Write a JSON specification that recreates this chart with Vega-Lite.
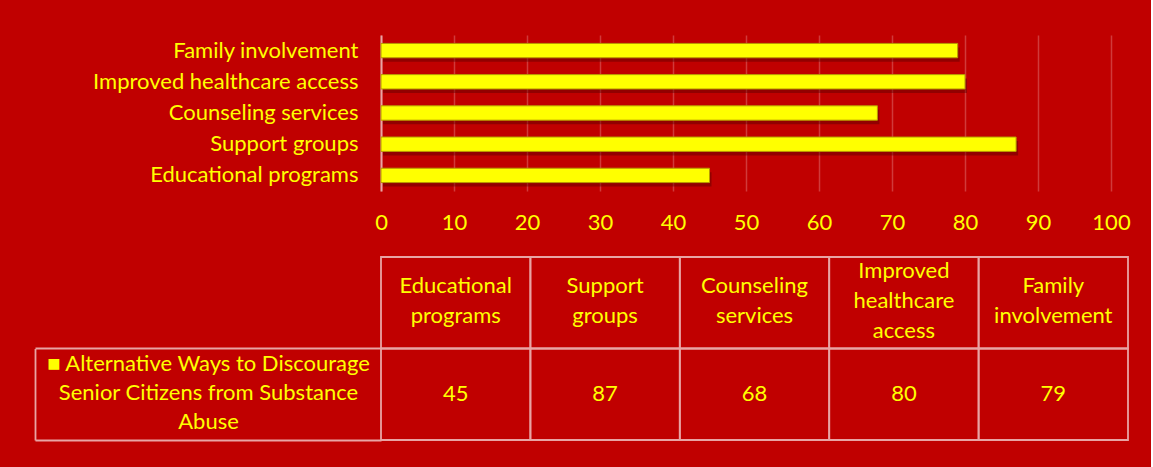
{
  "$schema": "https://vega.github.io/schema/vega-lite/v6.json",
  "background": "#C00000",
  "padding": {"left": 34, "top": 35, "right": 20, "bottom": 20},
  "config": {
    "view": {"stroke": null},
    "font": "Lato",
    "axis": {"labelFont": "Lato", "labelColor": "#FFFF00"},
    "text": {"font": "Lato"}
  },
  "datasets": {
    "ways": [
      {"category": "Educational programs", "value": 45},
      {"category": "Support groups", "value": 87},
      {"category": "Counseling services", "value": 68},
      {"category": "Improved healthcare access", "value": 80},
      {"category": "Family involvement", "value": 79}
    ]
  },
  "spacing": 23,
  "vconcat": [
    {
      "width": 730,
      "height": 156,
      "data": {"name": "ways"},
      "encoding": {
        "y": {
          "field": "category",
          "type": "nominal",
          "sort": ["Family involvement", "Improved healthcare access", "Counseling services", "Support groups", "Educational programs"],
          "scale": {"paddingInner": 0.54, "paddingOuter": 0.27},
          "axis": {
            "title": null,
            "domain": true,
            "domainColor": "#E8A4A4",
            "domainWidth": 2,
            "ticks": false,
            "labelPadding": 23,
            "labelFontSize": 22,
            "labelLimit": 400
          }
        },
        "x": {
          "field": "value",
          "type": "quantitative",
          "scale": {"domain": [0, 100], "nice": false},
          "axis": {
            "title": null,
            "values": [0, 10, 20, 30, 40, 50, 60, 70, 80, 90, 100],
            "domain": false,
            "ticks": false,
            "grid": true,
            "gridColor": "#D03A3A",
            "gridWidth": 1.5,
            "labelFlush": false,
            "labelPadding": 21,
            "labelFontSize": 22
          }
        }
      },
      "layer": [
        {"mark": {"type": "bar", "color": "#5a0000", "opacity": 0.45, "yOffset": 4, "xOffset": 2}},
        {"mark": {"type": "bar", "color": "#FFFF00", "stroke": "#B89A00", "strokeWidth": 1}}
      ]
    },
    {
      "width": 747,
      "height": 183,
      "data": {"name": "ways"},
      "resolve": {"scale": {"y": "independent"}, "axis": {"y": "independent"}},
      "encoding": {
        "x": {
          "field": "category",
          "type": "nominal",
          "sort": ["Educational programs", "Support groups", "Counseling services", "Improved healthcare access", "Family involvement"],
          "scale": {"paddingInner": 0, "paddingOuter": 0},
          "axis": null
        }
      },
      "layer": [
        {
          "mark": {"type": "rect", "filled": false, "stroke": "#E8A4A4", "strokeWidth": 1.8},
          "encoding": {
            "y": {
              "datum": "header",
              "type": "nominal",
              "scale": {"domain": ["header", "value"], "paddingInner": 0, "paddingOuter": 0},
              "axis": {
                "orient": "left",
                "title": null,
                "domain": false,
                "ticks": true,
                "bandPosition": 1,
                "tickSize": 346,
                "tickColor": "#E8A4A4",
                "tickWidth": 1.8,
                "labelPadding": -173,
                "labelAlign": "center",
                "labelBaseline": "top",
                "labelOffset": 51,
                "labelFontSize": 22,
                "labelLineHeight": 29,
                "labelLimit": 0,
                "labelExpr": "datum.value == 'header' ? ['\u25a0 Alternative Ways to Discourage', 'Senior Citizens from Substance', 'Abuse'] : ''"
              }
            }
          }
        },
        {
          "mark": {"type": "rect", "filled": false, "stroke": "#E8A4A4", "strokeWidth": 1.8},
          "encoding": {
            "y": {
              "datum": "value",
              "type": "nominal",
              "scale": {"domain": ["header", "value"], "paddingInner": 0, "paddingOuter": 0},
              "axis": {
                "orient": "left",
                "title": null,
                "offset": 346,
                "domain": true,
                "domainColor": "#E8A4A4",
                "domainWidth": 1.8,
                "domainDash": [0, 91.5, 91.5, 0],
                "ticks": false,
                "labels": false
              }
            }
          }
        },
        {
          "transform": [{"filter": "length(split(datum.category, ' ')) == 2"}],
          "mark": {"type": "text", "color": "#FFFF00", "fontSize": 22, "baseline": "middle", "lineBreak": " ", "lineHeight": 30, "dy": -17},
          "encoding": {
            "y": {"datum": "header", "type": "nominal", "scale": {"domain": ["header", "value"], "paddingInner": 0, "paddingOuter": 0}, "axis": null},
            "text": {"field": "category"}
          }
        },
        {
          "transform": [{"filter": "length(split(datum.category, ' ')) == 3"}],
          "mark": {"type": "text", "color": "#FFFF00", "fontSize": 22, "baseline": "middle", "lineBreak": " ", "lineHeight": 30, "dy": -32},
          "encoding": {
            "y": {"datum": "header", "type": "nominal", "scale": {"domain": ["header", "value"], "paddingInner": 0, "paddingOuter": 0}, "axis": null},
            "text": {"field": "category"}
          }
        },
        {
          "mark": {"type": "text", "color": "#FFFF00", "fontSize": 22, "baseline": "middle"},
          "encoding": {
            "y": {"datum": "value", "type": "nominal", "scale": {"domain": ["header", "value"], "paddingInner": 0, "paddingOuter": 0}, "axis": null},
            "text": {"field": "value"}
          }
        }
      ]
    }
  ]
}
